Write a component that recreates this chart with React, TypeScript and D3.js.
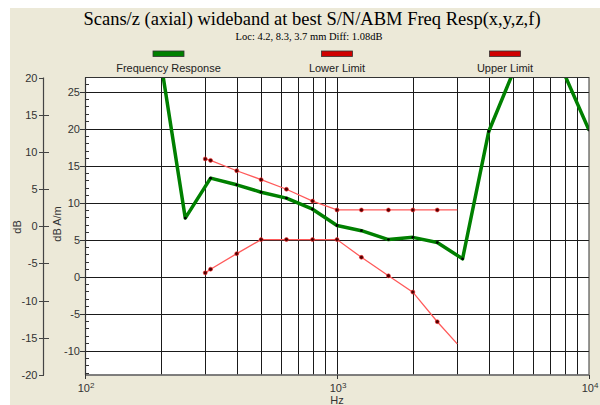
import React from "react";
import * as d3 from "d3";

const TITLE = "Scans/z (axial) wideband at best S/N/ABM Freq Resp(x,y,z,f)";
const SUBTITLE = "Loc: 4.2, 8.3, 3.7 mm Diff: 1.08dB";
const LEGEND_LABELS = ["Frequency Response", "Lower Limit", "Upper Limit"];

const RESP_F = [200, 250, 315, 400, 500, 630, 800, 1000, 1250, 1600, 2000, 2500, 3150, 4000, 5000, 6300, 8000, 10000];
const RESP_V = [29, 7.9, 13.3, 12.4, 11.4, 10.6, 9.1, 6.9, 6.2, 5.0, 5.3, 4.6, 2.4, 19.6, 27.6, 30, 27.3, 19.8];

const LIMIT_F = [300, 315, 400, 500, 630, 800, 1000, 1250, 1600, 2000, 2500, 3000];
const UPPER_V = [15.9, 15.7, 14.3, 13.1, 11.8, 10.2, 9.0, 9.0, 9.0, 9.0, 9.0, 9.0];
const LOWER_V = [0.5, 1.0, 3.1, 5.0, 5.0, 5.0, 5.0, 2.6, 0.1, -2.1, -6.1, -9.1];

const INNER_TICKS = [-10, -5, 0, 5, 10, 15, 20, 25];
const OUTER_TICKS = [-20, -15, -10, -5, 0, 5, 10, 15, 20];
const X_GRID = [200, 300, 400, 500, 600, 700, 800, 900, 1000, 2000, 3000, 4000, 5000, 6000, 7000, 8000, 9000];
const X_MAJOR = [100, 1000, 10000];
const X_MAJOR_EXP = ["2", "3", "4"];

const L = 85, R = 589, T = 77.5, B = 375;

export default function App() {
  const x = d3.scaleLog().domain([100, 10000]).range([L, R]);
  const yIn = d3.scaleLinear().domain([-13.3, 26.9]).range([B, T]);
  const yOut = d3.scaleLinear().domain([-20, 20]).range([B, T]);
  const line = (fs: number[], vs: number[]) =>
    d3.line<number>().x((_, i) => x(fs[i])).y((v) => yIn(v))(vs) || "";
  const minor = d3.range(-13, 27).filter((v) => v % 5 !== 0);
  const sans = "'Liberation Sans', Arial, sans-serif";
  const serif = "'Liberation Serif', 'Times New Roman', serif";
  const legendX = [168.5, 337, 505];
  const legendFill = ["#008000", "#d00000", "#d00000"];
  const r = (v: number) => Math.round(v) + 0.5;

  return (
    <svg width={600} height={405} style={{ position: "absolute", left: 0, top: 0 }}>
      <defs>
        <clipPath id="plotclip">
          <rect x={L} y={T} width={R - L} height={B - T} />
        </clipPath>
      </defs>
      <rect x={0} y={0} width={600} height={405} fill="#ffffff" />
      <rect x={10} y={8} width={590} height={397} fill="#ECE9D8" />
      <text x={312} y={25} textAnchor="middle" fontFamily={serif} fontSize={18.5} fill="#000">{TITLE}</text>
      <text x={309} y={39.5} textAnchor="middle" fontFamily={serif} fontSize={10.5} fill="#000">{SUBTITLE}</text>
      {LEGEND_LABELS.map((lab, i) => (
        <g key={lab}>
          <rect x={legendX[i] - 15.5} y={51} width={31} height={5.5} fill={legendFill[i]} stroke="#333" strokeWidth={0.8} />
          <text x={legendX[i]} y={72} textAnchor="middle" fontFamily={sans} fontSize={11} fill="#222">{lab}</text>
        </g>
      ))}
      <rect x={L} y={T} width={R - L} height={B - T} fill="#ffffff" />
      {X_GRID.map((f) => (
        <line key={"xg" + f} x1={r(x(f))} x2={r(x(f))} y1={T} y2={B} stroke="#1a1a1a" strokeWidth={1} />
      ))}
      {INNER_TICKS.map((v) => (
        <line key={"yg" + v} x1={L} x2={R} y1={r(yIn(v))} y2={r(yIn(v))} stroke="#1a1a1a" strokeWidth={1} />
      ))}
      {minor.map((v) => (
        <line key={"mn" + v} x1={L} x2={L + 4} y1={r(yIn(v))} y2={r(yIn(v))} stroke="#333" strokeWidth={1} />
      ))}
      <g clipPath="url(#plotclip)">
        <path d={line(LIMIT_F, UPPER_V)} fill="none" stroke="#ff5a5a" strokeWidth={1.3} />
        <path d={line(LIMIT_F, LOWER_V)} fill="none" stroke="#ff5a5a" strokeWidth={1.3} />
        {LIMIT_F.slice(0, -1).map((f, i) => (
          <g key={"ld" + f}>
            <circle cx={x(f)} cy={yIn(UPPER_V[i])} r={2} fill="#500000" stroke="#ff3030" strokeWidth={0.6} />
            <circle cx={x(f)} cy={yIn(LOWER_V[i])} r={2} fill="#500000" stroke="#ff3030" strokeWidth={0.6} />
          </g>
        ))}
        <path d={line(RESP_F, RESP_V)} fill="none" stroke="#008000" strokeWidth={3.5} strokeLinejoin="round" />
        {RESP_F.map((f, i) => (
          <circle key={"rd" + f} cx={x(f)} cy={yIn(RESP_V[i])} r={1.4} fill="#000" />
        ))}
      </g>
      <rect x={L + 0.5} y={T} width={R - L - 0.5} height={B - T} fill="none" stroke="#333" strokeWidth={1} />
      <line x1={L} x2={R} y1={B} y2={B} stroke="#777" strokeWidth={1.5} />
      <line x1={L + 0.5} x2={L + 0.5} y1={T} y2={B} stroke="#333" strokeWidth={1.2} />
      {INNER_TICKS.map((v) => (
        <g key={"yt" + v}>
          <line x1={L - 5} x2={L} y1={r(yIn(v))} y2={r(yIn(v))} stroke="#333" strokeWidth={1} />
          <text x={80} y={yIn(v) + 4} textAnchor="end" fontFamily={sans} fontSize={11} fill="#333">{v}</text>
        </g>
      ))}
      <line x1={43.5} x2={43.5} y1={T} y2={B} stroke="#444" strokeWidth={1.2} />
      {OUTER_TICKS.map((v) => (
        <g key={"ot" + v}>
          <line x1={39} x2={v === 20 || v === -20 ? 44 : 49} y1={r(yOut(v))} y2={r(yOut(v))} stroke="#444" strokeWidth={1} />
          <text x={37.5} y={yOut(v) + 4} textAnchor="end" fontFamily={sans} fontSize={11} fill="#333">{v}</text>
        </g>
      ))}
      {X_MAJOR.map((f, i) => (
        <g key={"xt" + f}>
          <line x1={r(x(f))} x2={r(x(f))} y1={B} y2={B + 4} stroke="#333" strokeWidth={1} />
          <text x={x(f) + 1} y={392} textAnchor="middle" fontFamily={sans} fontSize={11} fill="#333">
            10<tspan fontSize={8} dy={-4}>{X_MAJOR_EXP[i]}</tspan>
          </text>
        </g>
      ))}
      <text x={337} y={404} textAnchor="middle" fontFamily={sans} fontSize={11} fill="#333">Hz</text>
      <text transform="translate(21,227) rotate(-90)" textAnchor="middle" fontFamily={sans} fontSize={11} fill="#333">dB</text>
      <text transform="translate(61,224) rotate(-90)" textAnchor="middle" fontFamily={sans} fontSize={11} fill="#333">dB A/m</text>
    </svg>
  );
}
